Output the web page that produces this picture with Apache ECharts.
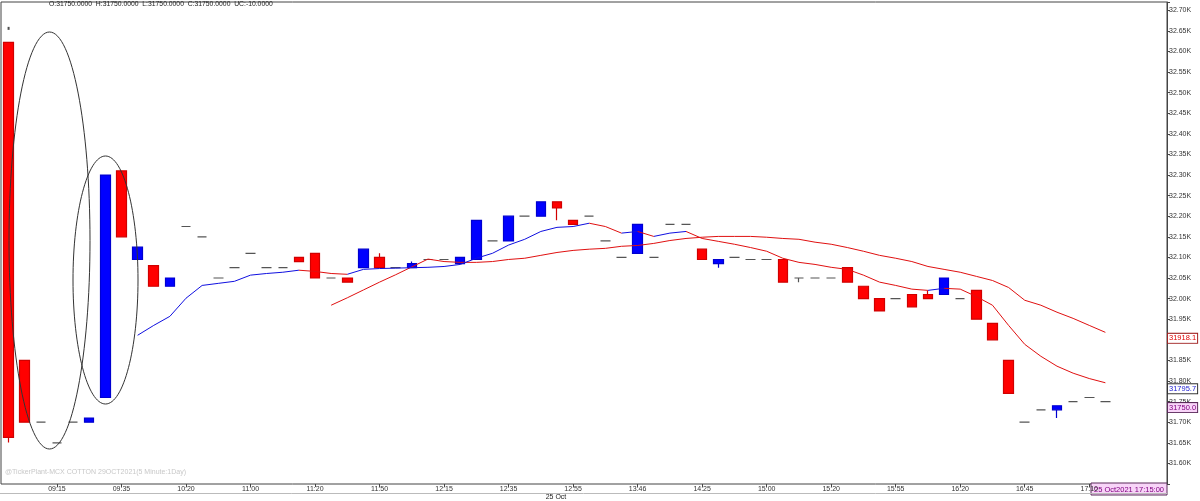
<!DOCTYPE html>
<html>
<head>
<meta charset="utf-8">
<script src="https://cdn.jsdelivr.net/npm/echarts@6/dist/echarts.min.js"></script>
<style>
html,body{margin:0;padding:0;background:#fff;}
#chart{width:1200px;height:501px;}
</style>
</head>
<body>
<div id="chart"></div>
<script>
// MCX COTTON 29OCT2021, 5 minute bars of 25 Oct
const times = ['09:00','09:05','09:10','09:15','09:20','09:25','09:30','09:35','09:40','09:50',
  '10:05','10:20','10:30','10:40','10:50','11:00','11:05','11:10','11:15','11:20',
  '11:30','11:35','11:40','11:50','11:55','12:05','12:10','12:15','12:20','12:25',
  '12:30','12:35','12:40','12:45','12:50','12:55','13:05','13:20','13:35','13:46',
  '13:55','14:05','14:15','14:25','14:30','14:40','14:50','15:00','15:05','15:10',
  '15:15','15:20','15:30','15:40','15:50','15:55','16:00','16:05','16:10','16:20',
  '16:25','16:30','16:35','16:45','16:50','16:55','17:00','17:10','17:15'];
const opens = [32622,31850,31700,31650,31700,31700,31760,32310,32095,32080,
  32030,32175,32150,32050,32075,32110,32075,32075,32100,32110,
  32050,32050,32075,32100,32075,32075,32095,32095,32085,32095,
  32140,32140,32200,32200,32235,32190,32200,32140,32100,32110,
  32100,32180,32180,32120,32085,32100,32095,32095,32095,32050,
  32050,32050,32075,32030,32000,32000,32010,32010,32010,32000,
  32020,31940,31850,31700,31730,31730,31750,31760,31750];
const closes = [31663,31700,31700,31650,31700,31710,32300,32150,32125,32030,
  32050,32175,32150,32050,32075,32110,32075,32075,32090,32050,
  32050,32040,32120,32075,32075,32085,32095,32095,32100,32190,
  32140,32200,32200,32235,32220,32180,32200,32140,32100,32180,
  32100,32180,32180,32095,32095,32100,32095,32095,32040,32050,
  32050,32050,32040,32000,31970,32000,31980,32000,32050,32000,
  31950,31900,31770,31700,31730,31740,31750,31760,31750];
const lows = [31651,31700,31700,31650,31700,31700,31760,32150,32095,32030,
  32030,32175,32150,32050,32075,32110,32075,32075,32090,32050,
  32050,32040,32075,32075,32075,32075,32095,32095,32085,32095,
  32140,32140,32200,32200,32190,32180,32200,32140,32100,32110,
  32100,32180,32180,32095,32075,32100,32095,32095,32040,32040,
  32050,32050,32040,32000,31970,32000,31980,32000,32010,32000,
  31950,31900,31770,31700,31730,31710,31750,31760,31750];
const highs = [32622,31850,31700,31650,31700,31710,32300,32310,32125,32080,
  32050,32175,32150,32050,32075,32110,32075,32075,32100,32110,
  32050,32050,32120,32110,32075,32090,32095,32095,32100,32190,
  32140,32200,32200,32235,32235,32190,32200,32140,32100,32180,
  32100,32180,32180,32120,32095,32100,32095,32095,32095,32050,
  32050,32050,32075,32030,32000,32000,32010,32020,32050,32000,
  32020,31940,31850,31700,31730,31740,31750,31760,31750];
// short average, drawn blue where it rises and red where it falls
const maShort = [null,null,null,null,null,null,null,null,31911,31935,
  31957,32001,32032,32037,32042,32057,32061,32064,32069,32066,
  32061,32059,32071,32073,32074,32075,32076,32078,32083,32098,
  32110,32130,32144,32163,32173,32175,32183,32175,32159,32163,
  32151,32159,32163,32146,32139,32132,32124,32115,32098,32088,
  32083,32076,32071,32057,32040,32032,32023,32020,32025,32023,
  32005,31984,31935,31889,31860,31836,31819,31806,31795.7];
// long average
const maLong = [null,null,null,null,null,null,null,null,null,null,
  null,null,null,null,null,null,null,null,null,null,
  31984,32002,32021,32040,32058,32077,32096,32090,32088,32088,
  32090,32095,32098,32105,32112,32117,32120,32122,32127,32129,
  32134,32141,32146,32149,32151,32151,32151,32149,32146,32144,
  32137,32132,32124,32115,32105,32098,32090,32078,32071,32064,
  32054,32044,32027,31996,31984,31967,31952,31935,31918.1];
const labelIdx = [3,7,11,15,19,23,27,31,35,39,43,47,51,55,59,63,67];
const topDot = [[0, 32656]];

const FONT = '"Liberation Sans", Arial, sans-serif';

function slopeSegments(vals, rising) {
  const out = [];
  let last = null;
  for (let i = 0; i + 1 < vals.length; i++) {
    const a = vals[i], b = vals[i + 1];
    if (a == null || b == null) continue;
    if ((b >= a) !== rising) continue;
    if (last !== i) {
      if (out.length) out.push([i - 0.5, '-']);
      out.push([i, a]);
    }
    out.push([i + 1, b]);
    last = i + 1;
  }
  return out;
}

const candles = opens.map((o, i) => [i, o, closes[i], lows[i], highs[i]]);
const longData = maLong.map((v, i) => [i, v == null ? '-' : v]);

function endLabel(value, color, bg, border) {
  return {
    silent: true,
    symbol: 'none',
    lineStyle: { color: 'rgba(0,0,0,0)', width: 0, type: 'solid' },
    label: {
      show: true, position: 'end', distance: 1, offset: [0, 6],
      formatter: p => Number(p.value).toFixed(1),
      fontFamily: FONT, fontSize: 7.5, color: color,
      backgroundColor: bg, borderColor: border, borderWidth: 1,
      padding: [1, 1, 0, 1]
    },
    emphasis: { disabled: true },
    data: [{ yAxis: value }]
  };
}

const chart = echarts.init(document.getElementById('chart'));
chart.setOption({
  animation: false,
  backgroundColor: '#fff',
  grid: { left: 1, right: 33, top: 2, bottom: 17, show: true, borderColor: '#444', borderWidth: 1 },
  xAxis: {
    type: 'value', min: -0.47, max: 71.82,
    axisLine: { show: false, onZero: false },
    splitLine: { show: false },
    axisTick: { show: true, customValues: labelIdx, length: 3, lineStyle: { color: '#444' } },
    axisLabel: {
      customValues: labelIdx, formatter: v => times[v] || '',
      fontFamily: FONT, fontSize: 7, color: '#333', margin: 2
    }
  },
  yAxis: {
    type: 'value', position: 'right', min: 31550, max: 32720, interval: 50,
    axisLine: { show: true, onZero: false, lineStyle: { color: '#444' } },
    axisTick: { show: true, length: 3, lineStyle: { color: '#444' } },
    splitLine: { show: false },
    axisLabel: {
      fontFamily: FONT, fontSize: 7, color: '#333', margin: 2,
      formatter: v => (v >= 31600 && v <= 32700 && v % 50 === 0) ? (v / 1000).toFixed(2) + 'K' : ''
    }
  },
  series: [
    {
      type: 'candlestick',
      data: candles,
      barWidth: 10,
      itemStyle: {
        color: '#0000ff', color0: '#ff0000',
        borderColor: '#0000d0', borderColor0: '#d00000',
        borderColorDoji: '#555', borderWidth: 1.2
      },
      markLine: endLabel(closes[closes.length - 1], '#800080', '#f8d4f8', '#5a2a5a'),
      z: 3
    },
    {
      type: 'line', data: longData, symbol: 'none',
      lineStyle: { color: '#e01010', width: 1 },
      markLine: endLabel(maLong[maLong.length - 1], '#e00000', '#fff', '#a02020'),
      z: 4
    },
    {
      type: 'line', data: slopeSegments(maShort, true), symbol: 'none', connectNulls: false,
      lineStyle: { color: '#1010e0', width: 1 },
      markLine: endLabel(maShort[maShort.length - 1], '#2020d0', '#fff', '#333'),
      z: 4
    },
    {
      type: 'line', data: slopeSegments(maShort, false), symbol: 'none', connectNulls: false,
      lineStyle: { color: '#e01010', width: 1 },
      z: 4
    },
    {
      type: 'scatter', data: topDot, symbol: 'rect', symbolSize: [2, 3],
      itemStyle: { color: '#222' }, z: 5
    }
  ],
  graphic: [
    { type: 'text', left: 49, top: 1, z: 10,
      style: { text: 'O:31750.0000  H:31750.0000  L:31750.0000  C:31750.0000  UC:-10.0000',
        fill: '#222', font: '6.8px ' + FONT } },
    { type: 'text', left: 5, top: 469, z: 10,
      style: { text: '@TickerPlant-MCX COTTON 29OCT2021(5 Minute:1Day)', fill: '#c8c8c8', font: '7px ' + FONT } },
    { type: 'ellipse', z: 10, shape: { cx: 49.5, cy: 240.5, rx: 40.5, ry: 208.5 },
      style: { fill: 'none', stroke: '#333', lineWidth: 1 } },
    { type: 'ellipse', z: 10, shape: { cx: 105.5, cy: 280, rx: 32.5, ry: 124 },
      style: { fill: 'none', stroke: '#333', lineWidth: 1 } },
    { type: 'line', z: 10, shape: { x1: 0, y1: 493.5, x2: 1167, y2: 493.5 },
      style: { stroke: '#bbb', lineWidth: 1 } },
    { type: 'text', x: 556, y: 497, z: 10,
      style: { text: '25 Oct', fill: '#222', font: '7px ' + FONT, align: 'center', verticalAlign: 'middle' } },
    { type: 'group', x: 1091, y: 483, z: 20, children: [
      { type: 'rect', shape: { x: 0, y: 0, width: 76, height: 12 },
        style: { fill: '#f8d4f8', stroke: '#5a2a5a', lineWidth: 1 } },
      { type: 'text', x: 38, y: 6.5,
        style: { text: '25 Oct2021 17:15:00', fill: '#800080', font: '7.5px ' + FONT, align: 'center', verticalAlign: 'middle' } }
    ] }
  ]
});
</script>
</body>
</html>
